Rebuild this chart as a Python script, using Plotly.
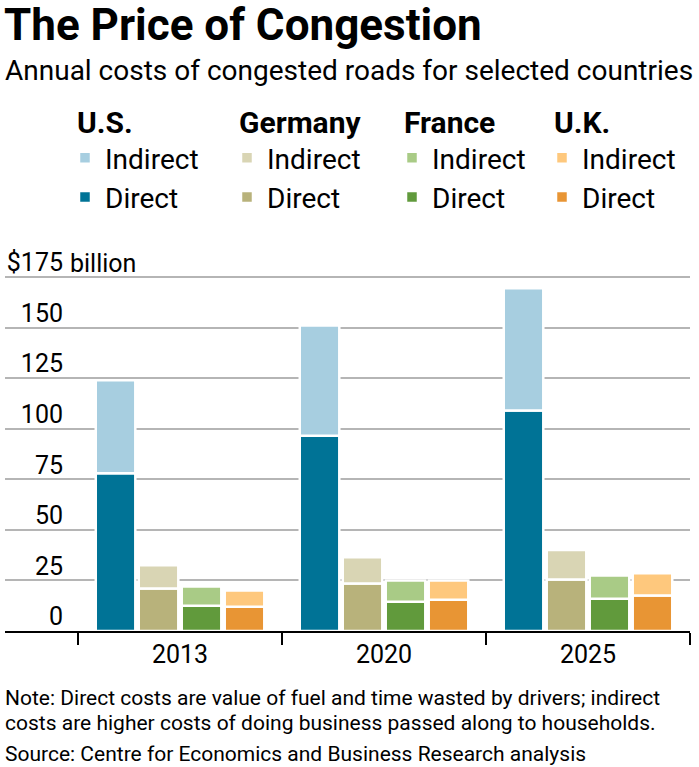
import plotly.graph_objects as go

years = ["2013", "2020", "2025"]
countries = ["U.S.", "Germany", "France", "U.K."]
direct = {
    "U.S.": [78, 96.5, 109],
    "Germany": [21, 23.5, 25.5],
    "France": [12.5, 14.5, 16],
    "U.K.": [12, 15.5, 17.5],
}
indirect = {
    "U.S.": [46, 54.5, 60.5],
    "Germany": [11.5, 13, 14.5],
    "France": [9.5, 10.5, 11.5],
    "U.K.": [8, 9.5, 11],
}
direct_colors = {"U.S.": "#007396", "Germany": "#b8b27b", "France": "#619a3c", "U.K.": "#e89534"}
indirect_colors = {"U.S.": "#a7cee0", "Germany": "#d9d5b4", "France": "#a9cb86", "U.K.": "#fec87d"}
y_ticks = [0, 25, 50, 75, 100, 125, 150, 175]
y_ticktext = ["0", "25", "50", "75", "100", "125", "150", "$175"]

FONT = "Roboto, Liberation Sans, sans-serif"
W, H = 699, 767
L, R, T, B = 5, 9, 273, 136
PH = H - T - B

def py(ypix):
    return (H - B - ypix) / PH

def px(xpix):
    return (xpix - L) / (W - L - R)

fig = go.Figure()
legend_names = ["legend", "legend2", "legend3", "legend4"]
for i, c in enumerate(countries):
    fig.add_trace(go.Bar(
        x=years, y=direct[c], name="Direct", offsetgroup=str(i),
        marker=dict(color=direct_colors[c], line=dict(color="white", width=2.5)),
        legend=legend_names[i], legendrank=2, hoverinfo="skip",
    ))
    fig.add_trace(go.Bar(
        x=years, y=indirect[c], base=direct[c], name="Indirect", offsetgroup=str(i),
        marker=dict(color=indirect_colors[c], line=dict(color="white", width=2.5)),
        legend=legend_names[i], legendrank=1, hoverinfo="skip",
    ))

# carrier for the tick-label axis (draws nothing)
fig.add_trace(go.Scatter(x=years, y=[0, 0, 0], yaxis="y2", mode="none",
                         showlegend=False, hoverinfo="skip"))

legend_title_x = [79, 241, 406, 556]
layout_legends = {}
for i, c in enumerate(countries):
    layout_legends[legend_names[i]] = dict(
        x=px(legend_title_x[i] - 4), xanchor="left", y=py(94), yanchor="top",
        title=dict(text="<b>" + c + "</b>", font=dict(size=30, family=FONT, color="black")),
        font=dict(size=28, family=FONT, color="black"),
        bgcolor="rgba(0,0,0,0)", orientation="v", tracegroupgap=0,
        indentation=-10,
    )

fig.update_layout(
    width=W, height=H,
    margin=dict(l=L, r=R, t=T, b=B, pad=0),
    paper_bgcolor="white", plot_bgcolor="white",
    barmode="group", bargap=0.157, bargroupgap=0.08,
    showlegend=True,
    font=dict(family=FONT, color="black"),
    xaxis=dict(
        type="category", range=[-0.858, 2.5], tickson="boundaries",
        ticks="outside", ticklen=12, tickwidth=2, tickcolor="black",
        showline=True, linecolor="black", linewidth=2,
        showgrid=False, tickfont=dict(size=25, family=FONT, color="black"),
        fixedrange=True,
    ),
    yaxis=dict(
        range=[0, 177], tickvals=y_ticks, showticklabels=False,
        showgrid=True, gridcolor="#b5b5b5", gridwidth=2, zeroline=False,
        fixedrange=True,
    ),
    yaxis2=dict(
        overlaying="y", anchor="free", position=px(63), side="left",
        range=[0, 177], tickvals=y_ticks, ticktext=y_ticktext,
        ticklabelposition="outside top", ticklabelshift=3, ticks="", showgrid=False,
        zeroline=False, showline=False,
        tickfont=dict(size=25, family=FONT, color="black"),
        fixedrange=True,
    ),
    **layout_legends,
)

annotations = [
    dict(text="<b>The Price of Congestion</b>", x=px(2), y=py(25), xanchor="left", yanchor="middle",
         font=dict(size=44, family=FONT, color="black")),
    dict(text="Annual costs of congested roads for selected countries", x=px(3), y=py(70),
         xanchor="left", yanchor="middle", font=dict(size=28, family=FONT, color="black")),
    dict(text="billion", x=px(68), y=175, yref="y", xanchor="left", yanchor="bottom", yshift=-3,
         font=dict(size=25, family=FONT, color="black")),
    dict(text="Note: Direct costs are value of fuel and time wasted by drivers; indirect",
         x=px(3), y=py(697.5), xanchor="left", yanchor="middle",
         font=dict(size=21, family=FONT, color="black")),
    dict(text="costs are higher costs of doing business passed along to households.",
         x=px(3), y=py(722.5), xanchor="left", yanchor="middle",
         font=dict(size=21, family=FONT, color="black")),
    dict(text="Source: Centre for Economics and Business Research analysis",
         x=px(3), y=py(753.5), xanchor="left", yanchor="middle",
         font=dict(size=21, family=FONT, color="black")),
]
for a in annotations:
    a.setdefault("xref", "paper")
    a.setdefault("yref", "paper")
    a["showarrow"] = False
fig.update_layout(annotations=annotations)

fig.write_html("out.html", config={"displayModeBar": False},
               post_script="document.body.style.margin='0px';")
